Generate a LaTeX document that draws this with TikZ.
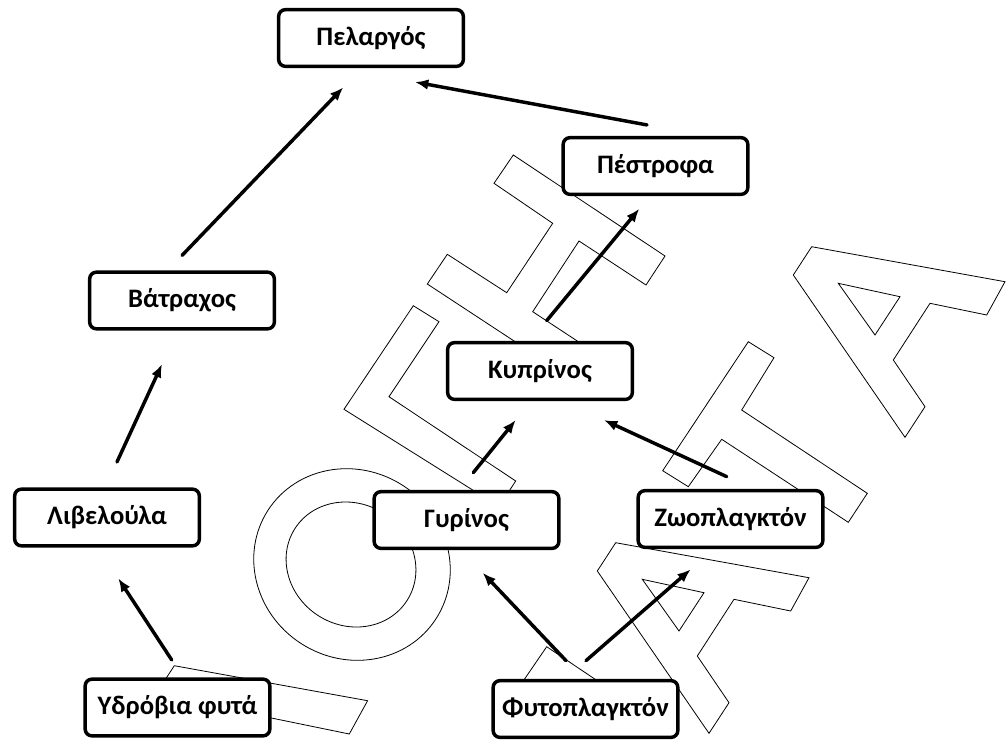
\documentclass[tikz,border=0pt]{standalone}
\usepackage{fontspec}
\setmainfont{Carlito}
\usetikzlibrary{arrows.meta}

\begin{document}
\begin{tikzpicture}[x=0.75pt,y=-0.75pt,
    animal/.style={draw,line width=2.6pt,rounded corners=5pt,fill=white,
        minimum width=138.5pt,minimum height=42.5pt,inner sep=0pt,
        font=\bfseries\fontsize{20}{23}\selectfont},
    feeds/.style={-{Latex[length=10pt,width=8pt]},line width=2.6pt,line cap=round},
    wmline/.style={line width=0.6pt}]

        \useasboundingbox (0,0) rectangle (1006,740);

        %Watermark letters behind the chain
        \foreach \dx/\dy in {0/0,-196/296}
            \draw[wmline,shift={(\dx,\dy)}] (811.7,246.7) -- (1005,281.7) -- (986.7,315) -- (930,303.3)
                -- (893.3,360) -- (925,406.7) -- (905,437.3) -- (793.3,275) -- cycle
                (838.3,283.3) -- (900,296.7) -- (875,335) -- cycle; %letter A
        \draw[wmline] (175.7,722.8) -- (155.9,694) -- (174.3,665.7) -- (367.6,700.7) -- (349.3,734)
            -- (250,713.6); %letter cut by the box
        \draw[wmline] (662.7,470.7) -- (748.3,341.7) -- (774,357.7) -- (741.7,410) -- (867.3,493.3)
            -- (848.3,522.3) -- (721.7,439.3) -- (688.3,486.7) -- cycle; %letter T
        \draw[wmline] (413.3,305.7) -- (439,321.7) -- (389,396.7) -- (515.7,481) -- (499,506.5)
            -- (344,409.3) -- cycle; %letter Gamma
        \draw[wmline] (513.3,155) -- (665,256) -- (646,285) -- (579,241) -- (532.7,311.7) -- (599,355.3)
            -- (580,384.3) -- (427.3,284) -- (447.3,254.3) -- (506.7,292.7) -- (552.7,223.3)
            -- (494,183.3) -- cycle; %letter H
        \draw[wmline,rotate around={-33:(352,564.5)}] (352,564.5) ellipse [x radius=100,y radius=94]; %letter O
        \draw[wmline,rotate around={-33:(351,564.5)}] (351,564.5) ellipse [x radius=66.6,y radius=60.7];
        \draw[wmline] (515,693) -- (546.7,646.7) -- (620,696); %corner of a letter under the box

        %Animals and plants
        \node[animal] (stork) at (371,38) {Πελαργός};
        \node[animal] (trout) at (655.5,166) {Πέστροφα};
        \node[animal] (frog) at (182,300.5) {Βάτραχος};
        \node[animal] (carp) at (540,371) {Κυπρίνος};
        \node[animal] (dragonfly) at (107,517.5) {Λιβελούλα};
        \node[animal] (tadpole) at (466.5,520) {Γυρίνος};
        \node[animal] (zooplankton) at (730.5,519) {Ζωοπλαγκτόν};
        \node[animal] (waterplants) at (177.5,707.5) {Υδρόβια φυτά};
        \node[animal] (phytoplankton) at (585.5,709) {Φυτοπλαγκτόν};

        %Who is eaten by whom
        \draw[feeds] ([shift={(-5.8,-17.5)}]waterplants.north) -- ([shift={(11.3,30.8)}]dragonfly.south);
        \draw[feeds] ([shift={(10,-25.5)}]dragonfly.north) -- ([shift={(-20,33.5)}]frog.south);
        \draw[feeds] ([shift={(0,-15)}]frog.north) -- ([shift={(-27.7,19.3)}]stork.south);
        \draw[feeds] ([shift={(-8.5,-11)}]trout.north) -- ([shift={(44,14)}]stork.south);
        \draw[feeds] ([shift={(6.7,-20.3)}]carp.north) -- ([shift={(-16.2,12.7)}]trout.south);
        \draw[feeds] ([shift={(6.8,-17.3)}]tadpole.north) -- ([shift={(-24.3,19)}]carp.south);
        \draw[feeds] ([shift={(-3.8,-12.3)}]zooplankton.north) -- ([shift={(64,19)}]carp.south);
        \draw[feeds] ([shift={(-19.5,-18.3)}]phytoplankton.north) -- ([shift={(16.2,22.7)}]tadpole.south);
        \draw[feeds] ([shift={(0.5,-18.3)}]phytoplankton.north) -- ([shift={(-39.8,20.3)}]zooplankton.south);

\end{tikzpicture}
\end{document}
